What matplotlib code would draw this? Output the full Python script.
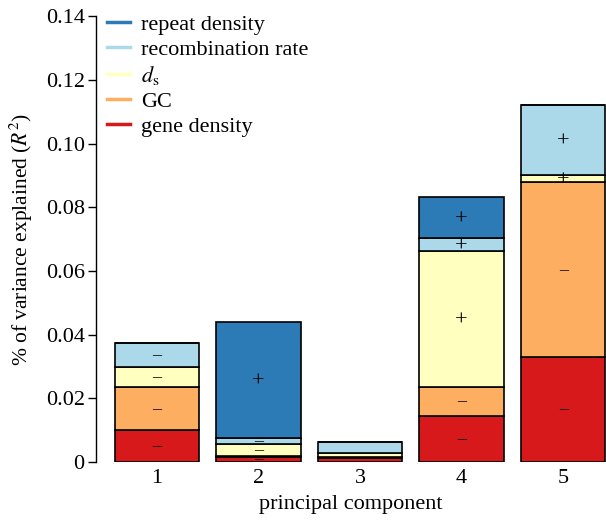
import numpy as np
import matplotlib.pyplot as plt

plt.rcParams['font.family'] = ['Liberation Serif', 'DejaVu Serif']
plt.rcParams['mathtext.fontset'] = 'stix'

# datos (R^2 por componente principal)
components = [1, 2, 3, 4, 5]
gene_density = [0.0100, 0.0016, 0.0012, 0.0145, 0.0331]
gc = [0.0134, 0.0004, 0.0003, 0.0091, 0.0547]
ds = [0.0065, 0.0036, 0.0014, 0.0426, 0.0023]
recomb = [0.0075, 0.0018, 0.0035, 0.0041, 0.0220]
repeat = [0.0000, 0.0366, 0.0000, 0.0128, 0.0000]

# signo de cada efecto ('' = sin marca)
sign_gene = ['-', '-', '', '-', '-']
sign_gc = ['-', '', '', '-', '-']
sign_ds = ['-', '-', '', '+', '+']
sign_recomb = ['-', '-', '', '+', '+']
sign_repeat = ['', '+', '', '+', '']

layers = [
    ('gene density', gene_density, sign_gene, '#d7191c'),
    ('GC', gc, sign_gc, '#fdae61'),
    (r'$d_\mathrm{s}$', ds, sign_ds, '#ffffbf'),
    ('recombination rate', recomb, sign_recomb, '#abd9e9'),
    ('repeat density', repeat, sign_repeat, '#2c7bb6'),
]

fig = plt.figure(figsize=(6.06, 5.22), dpi=100)
ax = fig.add_axes([0.158, 0.115, 0.842, 0.854])

x = np.array(components)
bottom = np.zeros(len(x))
handles = []
for name, vals, signs, col in layers:
    vals = np.array(vals)
    ax.bar(x, vals, width=0.83, bottom=bottom, color=col,
           edgecolor='black', linewidth=1.2)
    for xi, b, v, s in zip(x, bottom, vals, signs):
        if s == '+':
            ax.annotate('+', xy=(xi, b + v / 2), xytext=(0, -1.5),
                        textcoords='offset points', ha='center', va='center',
                        fontsize=16)
        elif s == '-':
            ax.annotate('\u2013', xy=(xi, b + v / 2), xytext=(0, -0.5),
                        textcoords='offset points', ha='center', va='center',
                        fontsize=13)
    h, = ax.plot([], [], color=col, lw=2.5, label=name)
    handles.append(h)
    bottom = bottom + vals

ax.legend(handles=handles[::-1], loc='upper left', frameon=False,
          fontsize=16, handlelength=1.0, handletextpad=0.5,
          labelspacing=0.2, borderaxespad=0.0, borderpad=0.0,
          bbox_to_anchor=(0.023, 1.005))

ax.set_xlim(0.4, 5.42)
ax.set_ylim(0, 0.14)
yt = [0, 0.02, 0.04, 0.06, 0.08, 0.10, 0.12, 0.14]
ax.set_yticks(yt)
ax.set_yticklabels(['0', '0.02', '0.04', '0.06', '0.08', '0.10', '0.12', '0.14'],
                   fontsize=16)
ax.set_xticks(x)
ax.set_xticklabels([str(c) for c in components], fontsize=16)
ax.tick_params(axis='x', length=0, pad=5)
ax.tick_params(axis='y', length=6, width=1, direction='out', pad=2)
for s in ['top', 'right', 'bottom']:
    ax.spines[s].set_visible(False)
ax.spines['left'].set_linewidth(1)

ax.set_xlabel('principal component', fontsize=16, labelpad=5)
ax.set_ylabel(r'% of variance explained ($R^2$)', fontsize=15.5, labelpad=8)

fig.savefig('out.png', dpi=100)
